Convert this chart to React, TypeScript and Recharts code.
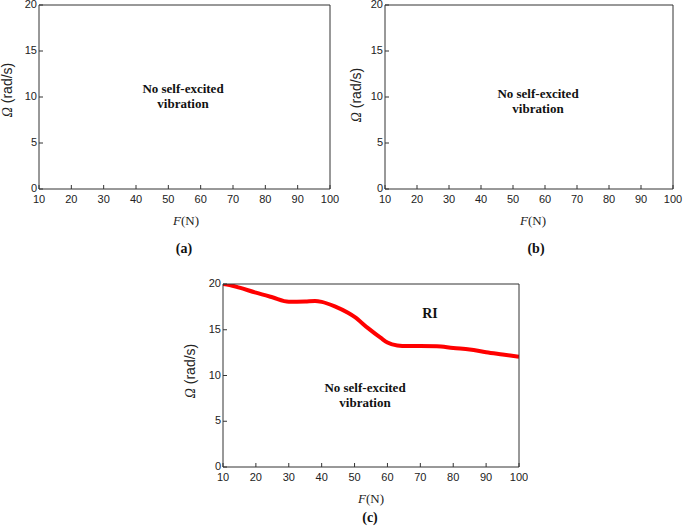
import React from "react";
import { LineChart, Line, XAxis, YAxis } from "recharts";

// axis ticks shared by the three panels
const forceTicks = [10, 20, 30, 40, 50, 60, 70, 80, 90, 100];
const omegaTicks = [0, 5, 10, 15, 20];

// stability boundary in panel (c)
const forceC = [10, 12, 15, 20, 25, 30, 35, 38, 40, 44, 48, 50, 54, 58, 60, 63, 66, 70, 75, 80, 85, 90, 95, 100];
const omegaC = [20, 19.9, 19.6, 19.05, 18.55, 18.07, 18.1, 18.15, 18.05, 17.55, 16.85, 16.4, 15.2, 14.1, 13.6, 13.28, 13.22, 13.22, 13.2, 13.0, 12.85, 12.55, 12.3, 12.05];

const AXIS = "#333";
const SANS = "'Liberation Sans', Arial, sans-serif";
const SERIF = "'Liberation Serif', 'Times New Roman', serif";

const curveC = forceC.map((f, i) => ({ f, w: omegaC[i] }));
// panels (a) and (b) have no boundary: x positions only, no values
const emptyData = forceTicks.map((f) => ({ f, w: null }));

const BottomTick = (props: any) => {
  const { x, y, payload } = props;
  return (
    <g>
      <line x1={x} y1={y} x2={x} y2={y - 4} stroke={AXIS} />
      <text x={x} y={y + 14} textAnchor="middle" fontSize={11} fontFamily={SANS} fill="#222">
        {payload.value}
      </text>
    </g>
  );
};

const LeftTick = (props: any) => {
  const { x, y, payload } = props;
  return (
    <g>
      <line x1={x} y1={y} x2={x + 4} y2={y} stroke={AXIS} />
      <text x={x - 2} y={y + 3} textAnchor="end" fontSize={11} fontFamily={SANS} fill="#222">
        {payload.value}
      </text>
    </g>
  );
};

function Panel(p: {
  left: number;
  top: number;
  width: number;
  height: number;
  yw: number;
  mt: number;
  mr: number;
  xh: number;
  curve?: boolean;
}) {
  return (
    <div style={{ position: "absolute", left: p.left, top: p.top }}>
      <LineChart
        width={p.width}
        height={p.height}
        data={p.curve ? curveC : emptyData}
        margin={{ top: p.mt, right: p.mr, bottom: 0, left: 0 }}
      >
        <XAxis
          dataKey="f"
          type="number"
          domain={[10, 100]}
          allowDataOverflow
          ticks={forceTicks}
          interval={0}
          height={p.xh}
          tickSize={0}
          tickMargin={0}
          tickLine={false}
          tick={<BottomTick />}
          axisLine={{ stroke: AXIS }}
        />
        <XAxis
          xAxisId="top"
          dataKey="f"
          type="number"
          orientation="top"
          mirror
          domain={[10, 100]}
          allowDataOverflow
          ticks={forceTicks}
          interval={0}
          tick={false}
          tickSize={4}
          tickLine={{ stroke: AXIS }}
          axisLine={{ stroke: AXIS }}
        />
        <YAxis
          type="number"
          domain={[0, 20]}
          allowDataOverflow
          ticks={omegaTicks}
          interval={0}
          width={p.yw}
          tickSize={0}
          tickMargin={0}
          tickLine={false}
          tick={<LeftTick />}
          axisLine={{ stroke: AXIS }}
        />
        <YAxis
          yAxisId="right"
          type="number"
          orientation="right"
          mirror
          domain={[0, 20]}
          allowDataOverflow
          ticks={omegaTicks}
          interval={0}
          tick={false}
          tickSize={4}
          tickLine={{ stroke: AXIS }}
          axisLine={{ stroke: AXIS }}
        />
        <Line
          dataKey="w"
          type="monotone"
          stroke="#ff0000"
          strokeWidth={4}
          dot={false}
          isAnimationActive={false}
        />
      </LineChart>
    </div>
  );
}

const centered = (x: number, y: number, extra: React.CSSProperties = {}): React.CSSProperties => ({
  position: "absolute",
  left: x,
  top: y,
  transform: "translate(-50%, -50%)",
  whiteSpace: "nowrap",
  lineHeight: 1,
  ...extra,
});

const Note = ({ x, y, lines, size = 13 }: { x: number; y: number; lines: string[]; size?: number }) => (
  <div
    style={centered(x, y, {
      fontFamily: SERIF,
      fontWeight: "bold",
      fontSize: size,
      lineHeight: "15px",
      textAlign: "center",
      color: "#111",
    })}
  >
    {lines.map((l) => (
      <div key={l}>{l}</div>
    ))}
  </div>
);

const YLabel = ({ x, y }: { x: number; y: number }) => (
  <div
    style={{
      ...centered(x, y),
      transform: "translate(-50%, -50%) rotate(-90deg)",
      fontSize: 14,
      lineHeight: "14px",
      color: "#222",
    }}
  >
    <span style={{ fontFamily: SERIF, fontStyle: "italic" }}>Ω</span>
    <span style={{ fontFamily: SANS }}> (rad/s)</span>
  </div>
);

const XLabel = ({ x, y }: { x: number; y: number }) => (
  <div style={centered(x, y, { fontFamily: SERIF, fontSize: 13, color: "#222" })}>
    <i>F</i>(N)
  </div>
);

const Caption = ({ x, y, text }: { x: number; y: number; text: string }) => (
  <div style={centered(x, y, { fontFamily: SERIF, fontWeight: "bold", fontSize: 14, color: "#111" })}>
    {text}
  </div>
);

export default function App() {
  return (
    <div
      style={{
        position: "absolute",
        left: 0,
        top: 0,
        width: 685,
        height: 527,
        background: "#fff",
        overflow: "hidden",
      }}
    >
      {/* (a) */}
      <Panel left={0} top={0} width={340} height={260} yw={39} mt={5} mr={10} xh={71} />
      <YLabel x={7} y={90} />
      <XLabel x={186} y={220} />
      <Caption x={184} y={249} text="(a)" />
      <Note x={183} y={96} lines={["No self-excited", "vibration"]} />

      {/* (b) */}
      <Panel left={345} top={0} width={340} height={260} yw={40} mt={5} mr={12} xh={71} />
      <YLabel x={356} y={95} />
      <XLabel x={533} y={220} />
      <Caption x={536} y={249} text="(b)" />
      <Note x={538} y={101} lines={["No self-excited", "vibration"]} />

      {/* (c) */}
      <Panel left={183} top={274} width={345} height={253} yw={40} mt={10} mr={9} xh={60} curve />
      <YLabel x={190} y={371} />
      <XLabel x={371} y={498} />
      <Caption x={370} y={518} text="(c)" />
      <Note x={430} y={313} lines={["RI"]} size={14} />
      <Note x={365} y={395} lines={["No self-excited", "vibration"]} />
    </div>
  );
}
